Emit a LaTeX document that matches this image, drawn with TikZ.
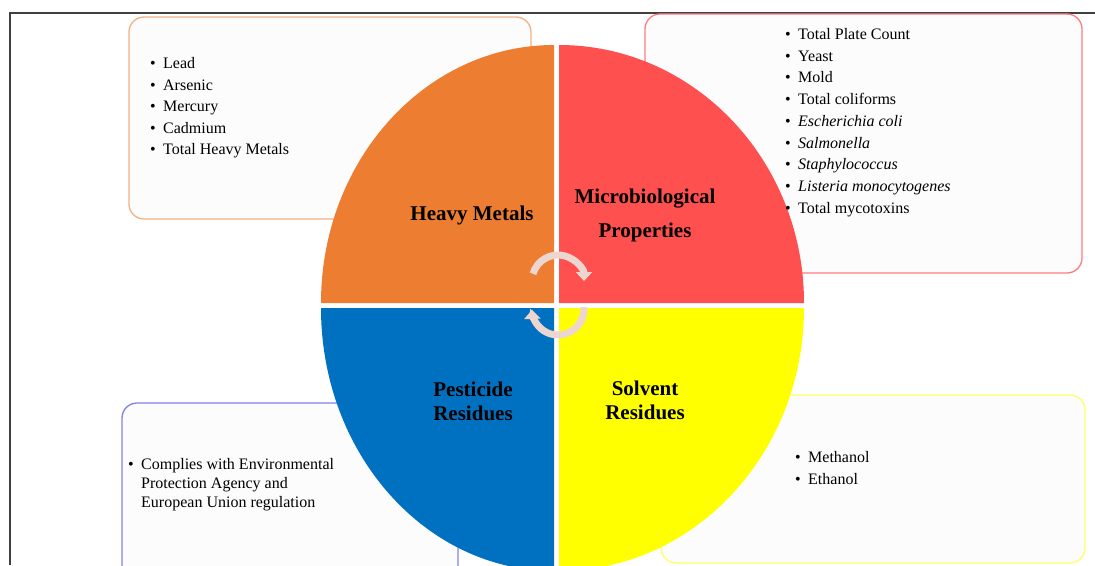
\documentclass[tikz,border=0pt]{standalone}
\usepackage{fontspec}
\setmainfont{Liberation Serif}
\usepackage{tikz}
\usetikzlibrary{positioning}
\usetikzlibrary{arrows.meta}
\usetikzlibrary{calc}
\definecolor{myorange}{RGB}{237,125,49}
\definecolor{myred}{RGB}{255,80,80}
\definecolor{myblue}{RGB}{0,112,192}
\definecolor{myyellow}{RGB}{255,255,0}
\definecolor{mylightorange}{RGB}{244,177,131}
\definecolor{mylightred}{RGB}{255,124,128}
\definecolor{mylightblue}{RGB}{128,128,230}
\definecolor{mylightyellow}{RGB}{255,255,102}
\definecolor{myframe}{RGB}{64,64,64}
\definecolor{mypink}{RGB}{238,214,208}
\definecolor{mypaper}{RGB}{252,252,252}
\newcommand{\itm}[1]{\makebox[13pt][l]{\textbullet}#1}

\begin{document}
\begin{tikzpicture}[x=1pt,y=-1pt]
	\useasboundingbox (0,0) rectangle (1095,565);
	\draw[myframe, line width=1.2pt] (1095,13) -- (10,13) -- (10,565);

	% list boxes, behind the circle
	\begin{scope}[every path/.style={fill=mypaper, line width=1.3pt, rounded corners=15pt}]
		\draw[draw=mylightorange] (129,17) rectangle (531,219);
		\draw[draw=mylightred] (645,14) rectangle (1082,273);
		\draw[draw=mylightblue] (122,403) rectangle (458,590);
		\draw[draw=mylightyellow] (661,395) rectangle (1085,563);
	\end{scope}

	% four quarters
	\fill[myorange] (554,303) -- (321,303) arc[start angle=180, end angle=270, x radius=233, y radius=258] -- cycle;
	\fill[myred] (559,303) -- (559,45) arc[start angle=270, end angle=360, x radius=245, y radius=258] -- cycle;
	\fill[myblue] (554,308) -- (554,571) arc[start angle=90, end angle=180, x radius=233, y radius=263] -- cycle;
	\fill[myyellow] (559,308) -- (804,308) arc[start angle=0, end angle=90, x radius=245, y radius=263] -- cycle;

	% cycle arrows
	\coordinate (cycup) at (558,281);
	\coordinate (cyclow) at (558,309);
	\begin{scope}[line width=7pt, draw=mypink, -{Triangle[width=16pt,length=9pt]}]
		\draw ($(cycup)+(196:26)$) arc[start angle=196, end angle=360, radius=26];
		\draw ($(cyclow)+(-4:26)$) arc[start angle=-4, end angle=178, radius=26];
	\end{scope}

	\begin{scope}[every node/.style={font=\fontsize{21}{24}\selectfont\bfseries, align=center, inner sep=0pt}]
		\node[anchor=base] (heavy) at (472,220) {Heavy Metals};
		\node[anchor=north] (micro) at (645,188.5) {Microbiological\\[10pt]Properties};
		\node[anchor=north] (pest) at (473,381.5) {Pesticide\\Residues};
		\node[anchor=north] (solv) at (645,380.5) {Solvent\\Residues};
	\end{scope}

	\begin{scope}[every node/.style={font=\fontsize{16}{21.5}\selectfont, align=left, anchor=north west, inner sep=0pt}]
		\node (metals) at (150,57.4) {\itm{Lead}\\\itm{Arsenic}\\\itm{Mercury}\\\itm{Cadmium}\\\itm{Total Heavy Metals}};
		\node[font=\fontsize{16}{21.75}\selectfont] (microbes) at (785,28) {\itm{Total Plate Count}\\\itm{Yeast}\\\itm{Mold}\\\itm{Total coliforms}\\\itm{\textit{Escherichia coli}}\\\itm{\textit{Salmonella}}\\\itm{\textit{Staphylococcus}}\\\itm{\textit{Listeria monocytogenes}}\\\itm{Total mycotoxins}};
		\node[font=\fontsize{16}{19}\selectfont] (pesticides) at (128,458) {\itm{Complies with Environmental}\\\hspace*{13pt}Protection Agency and\\\hspace*{13pt}European Union regulation};
		\node[font=\fontsize{16}{22}\selectfont] (solvents) at (795,450.8) {\itm{Methanol}\\\itm{Ethanol}};
	\end{scope}
\end{tikzpicture}
\end{document}
